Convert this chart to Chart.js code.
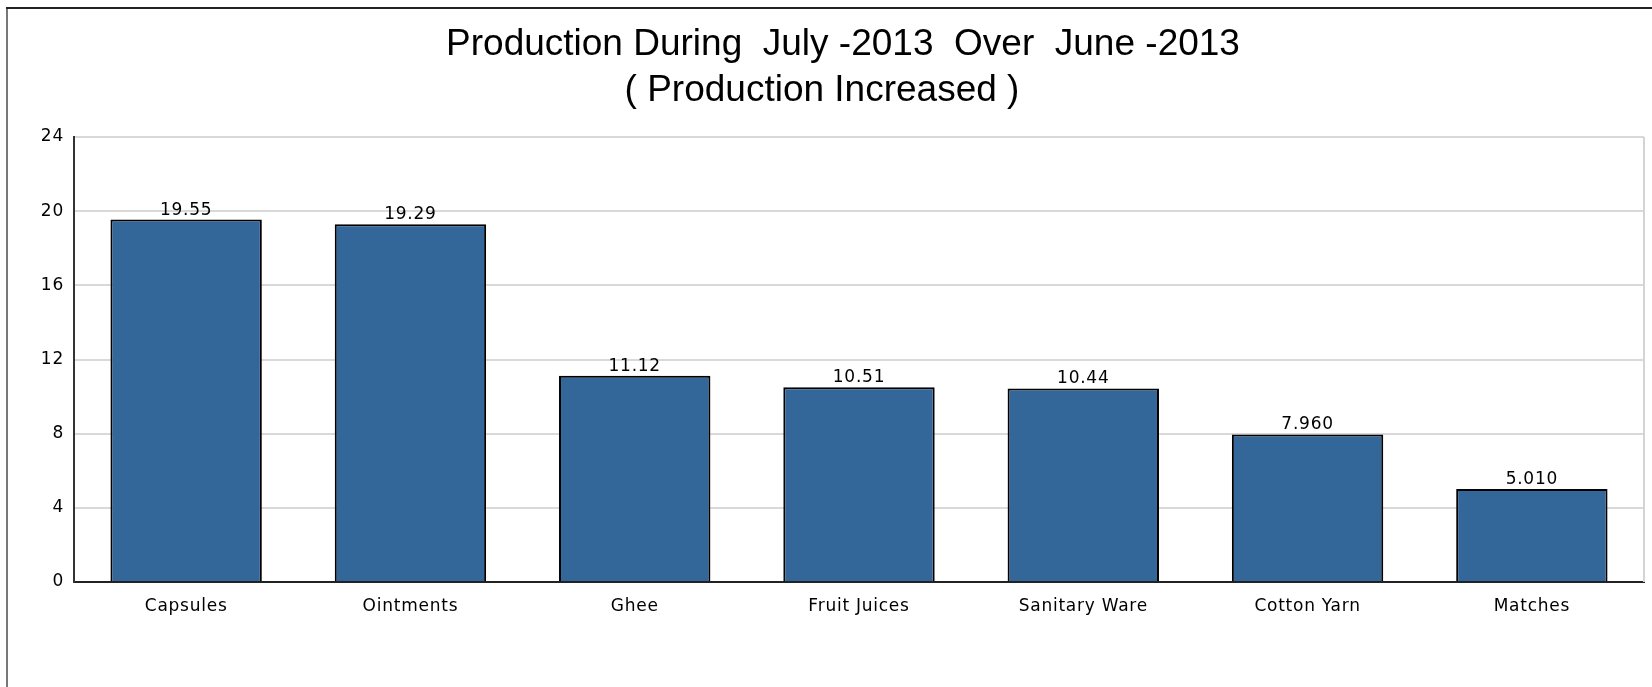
<!DOCTYPE html>
<html>
<head>
<meta charset="utf-8">
<title>Production During July -2013 Over June -2013</title>
<script src="https://cdn.jsdelivr.net/npm/chart.js@4"></script>
<style>
  html, body { margin: 0; padding: 0; background: #fff; }
  canvas { display: block; }
</style>
</head>
<body>
<canvas id="prodChart" width="1652" height="687"></canvas>
<script>
// ========================
// Daten
// ========================
const categories = ['Capsules', 'Ointments', 'Ghee', 'Fruit Juices', 'Sanitary Ware', 'Cotton Yarn', 'Matches'];
const increaseValues = [19.55, 19.29, 11.12, 10.51, 10.44, 7.96, 5.01];
const yTicks = [0, 4, 8, 12, 16, 20, 24];
const titleLines = ['Production During  July -2013  Over  June -2013', '( Production Increased )'];

document.addEventListener('DOMContentLoaded', () => {
  const canvas = document.getElementById('prodChart');

  // Hintergrund, Rahmen und Laufweite der kleinen Schrift
  const frame = {
    id: 'frame',
    beforeDraw(chart) {
      const ctx = chart.ctx;
      ctx.fillStyle = '#fff';
      ctx.fillRect(0, 0, chart.width, chart.height);
      ctx.fillStyle = '#777';
      ctx.fillRect(6, 8, 2, chart.height - 8);
      ctx.fillStyle = '#222';
      ctx.fillRect(6, 7, chart.width - 6, 2);
      ctx.letterSpacing = '0.75px';
    },
    beforeDatasetsDraw(chart) {
      const { ctx, chartArea } = chart;
      ctx.save();
      ctx.strokeStyle = '#d4d4d4';
      ctx.lineWidth = 2;
      ctx.beginPath();
      ctx.moveTo(chartArea.right, chartArea.top);
      ctx.lineTo(chartArea.right, chartArea.bottom);
      ctx.stroke();
      ctx.restore();
    }
  };

  // Werte über den Balken
  const barLabels = {
    id: 'barLabels',
    afterDatasetsDraw(chart) {
      const ctx = chart.ctx;
      const meta = chart.getDatasetMeta(0);
      ctx.save();
      ctx.font = '17px "DejaVu Sans"';
      ctx.fillStyle = '#000';
      ctx.textAlign = 'center';
      ctx.textBaseline = 'alphabetic';
      meta.data.forEach((bar, i) => {
        ctx.fillText(increaseValues[i].toPrecision(4), bar.x, bar.y - 5);
      });
      ctx.restore();
    }
  };

  // Zweizeiliger Titel
  const bigTitle = {
    id: 'bigTitle',
    afterDraw(chart) {
      const ctx = chart.ctx;
      ctx.save();
      ctx.letterSpacing = '0px';
      ctx.font = '37px "Liberation Sans", Arial, sans-serif';
      ctx.fillStyle = '#000';
      ctx.textAlign = 'center';
      ctx.textBaseline = 'alphabetic';
      ctx.fillText(titleLines[0], 843, 55);
      ctx.fillText(titleLines[1], 822, 101);
      ctx.restore();
    }
  };

  new Chart(canvas, {
    type: 'bar',
    data: {
      labels: categories,
      datasets: [{
        data: increaseValues,
        backgroundColor: '#336699',
        borderColor: '#000',
        borderWidth: 2,
        barPercentage: 0.675,
        categoryPercentage: 1
      }]
    },
    options: {
      responsive: false,
      animation: false,
      devicePixelRatio: 1,
      layout: { padding: { top: 137, right: 8, left: 0, bottom: 0 } },
      plugins: {
        legend: { display: false },
        title: { display: false },
        tooltip: { enabled: false }
      },
      scales: {
        x: {
          afterFit: s => { s.height = 105; },
          grid: { display: false },
          border: { color: '#222', width: 2 },
          ticks: {
            color: '#000',
            padding: 6,
            font: { family: 'DejaVu Sans', size: 17 }
          }
        },
        y: {
          min: 0,
          max: 24,
          afterFit: s => { s.width = 74; },
          afterBuildTicks: s => { s.ticks = yTicks.map(v => ({ value: v })); },
          grid: { color: '#d9d9d9', lineWidth: 2, drawTicks: false },
          border: { color: '#333', width: 2 },
          ticks: {
            color: '#000',
            padding: 10,
            font: { family: 'DejaVu Sans', size: 17 }
          }
        }
      }
    },
    plugins: [frame, barLabels, bigTitle]
  });
});
</script>
</body>
</html>
